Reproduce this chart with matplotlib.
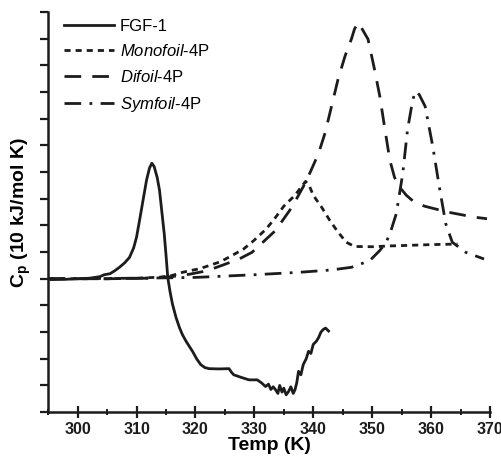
import matplotlib
matplotlib.use("Agg")
import matplotlib.pyplot as plt
from matplotlib.ticker import MultipleLocator, NullFormatter

plt.rcParams['font.family'] = ['Liberation Sans', 'DejaVu Sans']
plt.rcParams['mathtext.fontset'] = 'custom'
plt.rcParams['mathtext.rm'] = 'Liberation Sans'
plt.rcParams['mathtext.it'] = 'Liberation Sans:italic'
plt.rcParams['mathtext.bf'] = 'Liberation Sans:bold'

# ---- data ----
fgf_T = [295.5, 298, 300, 302, 303.8, 304.5, 305.5, 306.3, 307.1, 308, 308.8, 309.5, 310.0, 310.6, 311.1,
         311.7, 312.2, 312.6, 313.0, 313.5, 313.9, 314.3, 314.7, 315.0, 315.3, 315.7, 316.1, 316.7, 317.3,
         317.8, 318.4, 319.0, 319.5, 320.2, 320.9, 321.6, 322.3, 324, 325.7, 326.1, 326.5, 327.8, 329.1,
         330.5, 331.2, 331.9, 332.4, 332.8, 333.2, 333.6, 334.0, 334.3, 334.7, 335.0, 335.4, 335.8, 336.2,
         336.6, 336.9, 337.2, 337.5, 337.9, 338.3, 338.8, 339.2, 339.6, 340.0, 340.5, 340.9, 341.3, 341.7,
         342.1, 342.6]
fgf_Cp = [-0.03, -0.02, 0.0, 0.02, 0.08, 0.15, 0.19, 0.3, 0.43, 0.6, 0.8, 1.15, 1.56, 2.3, 2.94,
          3.7, 4.15, 4.33, 4.2, 3.8, 3.32, 2.5, 1.69, 0.9, 0.05, -0.5, -0.95, -1.45, -1.84,
          -2.1, -2.34, -2.55, -2.72, -3.0, -3.22, -3.33, -3.37, -3.38, -3.37, -3.5, -3.6, -3.7, -3.79,
          -3.79, -3.9, -4.04, -3.95, -4.15, -4.05, -4.16, -4.3, -4.0, -4.25, -4.1, -4.35, -4.23, -4.05,
          -4.3, -4.16, -3.9, -3.47, -3.6, -3.22, -3.0, -2.72, -2.8, -2.46, -2.35, -2.21, -2.0, -1.9,
          -1.85, -1.96]

mono_T = [295, 300, 305, 310, 314, 316, 317.8, 319, 320.6, 322, 324, 324.6, 326.2, 328.2, 329.9, 331.9,
          333.3, 335.0, 336.9, 338.0, 338.7, 339.3, 340.0, 341.4, 342.8, 344.2, 345.6, 347.0, 350, 353,
          356, 360, 364.5]
mono_Cp = [0, 0, 0.0, 0.02, 0.06, 0.12, 0.24, 0.3, 0.37, 0.47, 0.62, 0.68, 0.87, 1.12, 1.43, 1.84,
           2.21, 2.72, 3.13, 3.45, 3.65, 3.5, 3.13, 2.69, 2.19, 1.75, 1.37, 1.21, 1.2, 1.23,
           1.25, 1.28, 1.3]

di_T = [295, 305, 312, 316, 319, 322, 325.1, 327.5, 329.6, 331.6, 333.6, 335.0, 336.4, 338.3, 339.5,
        340.9, 342.0, 343.1, 344.2, 345.4, 346.5, 347.0, 347.6, 348.2, 349.3, 350.4, 351.3, 352.1, 353.0,
        353.8, 354.6, 355.8, 357.0, 358.9, 362.8, 367.3, 369.5]
di_Cp = [0, 0, 0.02, 0.08, 0.17, 0.3, 0.55, 0.75, 0.99, 1.4, 1.81, 2.25, 2.69, 3.45, 4.0,
         4.7, 5.46, 6.46, 7.47, 8.35, 9.0, 9.36, 9.6, 9.4, 8.98, 7.85, 6.84, 5.7, 4.45,
         3.8, 3.45, 3.13, 2.9, 2.72, 2.5, 2.31, 2.25]

sym_T = [295, 310, 320, 330, 337.5, 343.1, 346.5, 349.6, 351.3, 352.4, 353.2, 354.1, 355.2, 356.0,
         356.9, 357.4, 358.0, 359.0, 360.3, 361.4, 362.5, 363.6, 365.9, 369.0]
sym_Cp = [0, 0.02, 0.05, 0.15, 0.24, 0.33, 0.43, 0.68, 1.06, 1.37, 1.81, 2.44, 3.95, 5.58,
          6.72, 7.03, 6.9, 6.46, 4.95, 3.45, 2.06, 1.37, 0.99, 0.74]

labels = ['FGF-1', r'$\mathit{Monofoil}$-4P', r'$\mathit{Difoil}$-4P', r'$\mathit{Symfoil}$-4P']
x_ticks = [300, 310, 320, 330, 340, 350, 360, 370]

# ---- figure ----
fig = plt.figure(figsize=(5.02, 4.61), dpi=100)
ax = fig.add_axes([0.096, 0.106, 0.880, 0.868])
col = '#1c1c1c'

ax.plot(fgf_T, fgf_Cp, color=col, lw=2.0, ls='-', label=labels[0])
ax.plot(mono_T, mono_Cp, color=col, lw=2.0, ls=(0, (2.2, 1.8)), label=labels[1])
ax.plot(di_T, di_Cp, color=col, lw=2.0, ls=(0, (6, 4)), label=labels[2])
ax.plot(sym_T, sym_Cp, color=col, lw=2.0, ls=(0, (6, 3, 1, 3)), label=labels[3])

ax.set_xlim(295, 370)
ax.set_ylim(-5, 10)
ax.set_xticks(x_ticks)
ax.xaxis.set_minor_locator(MultipleLocator(5))
ax.yaxis.set_major_locator(MultipleLocator(1))
ax.yaxis.set_major_formatter(NullFormatter())

for s in ['top', 'right']:
    ax.spines[s].set_visible(False)
for s in ['left', 'bottom']:
    ax.spines[s].set_linewidth(1.8)
    ax.spines[s].set_color(col)

ax.tick_params(axis='x', which='major', direction='inout', length=8, width=1.6, colors=col,
               labelsize=11.5, pad=3)
ax.tick_params(axis='x', which='minor', direction='inout', length=5, width=1.4, colors=col)
ax.tick_params(axis='y', which='major', direction='out', length=6, width=1.6, colors=col)
for lab in ax.get_xticklabels():
    lab.set_fontweight('bold')

ax.set_xlabel('Temp (K)', fontsize=14, fontweight='bold', labelpad=0)
ax.set_ylabel(r'C$_\mathbf{p}$ (10 kJ/mol K)', fontsize=14, fontweight='bold')
ax.yaxis.set_label_coords(-0.035, 0.5)

leg = ax.legend(loc='upper left', bbox_to_anchor=(0.02, 1.0), frameon=False, fontsize=12,
                handlelength=3.0, handletextpad=0.35, labelspacing=0.58, borderaxespad=0.0)

fig.savefig('out.png', dpi=100, facecolor='white')
